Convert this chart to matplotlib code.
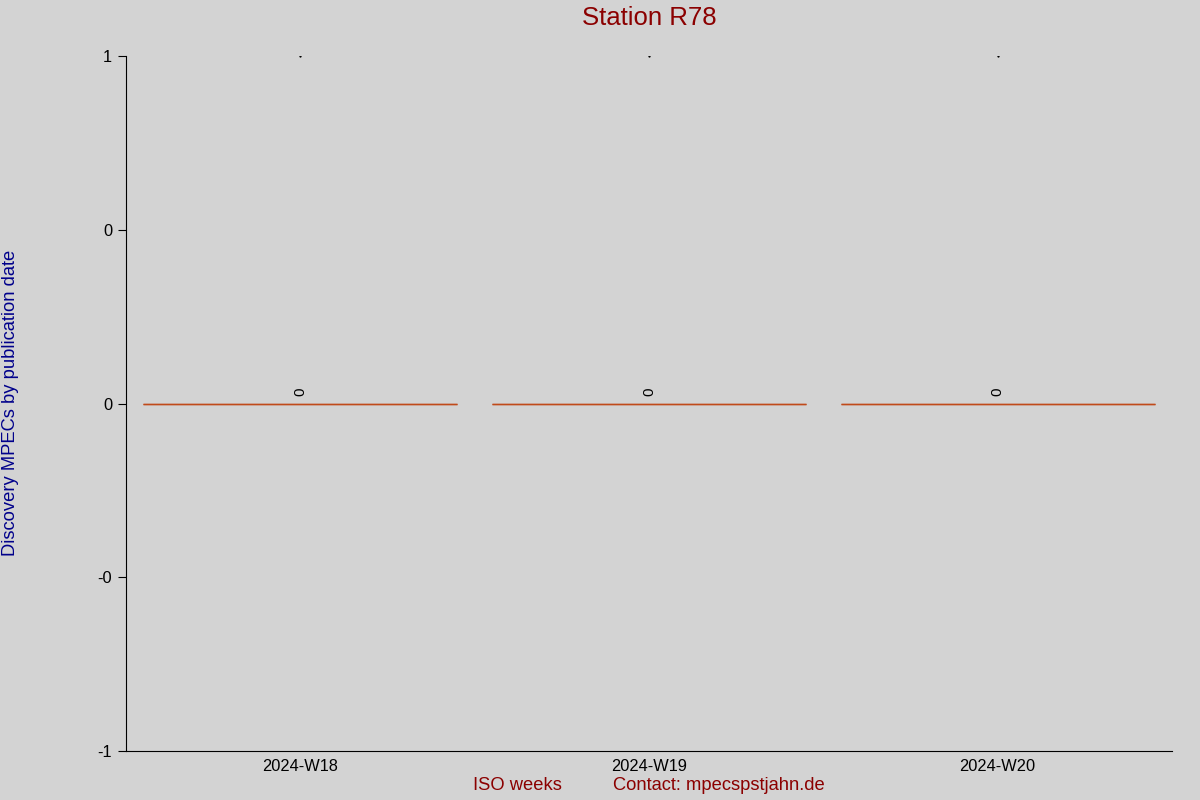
import matplotlib
matplotlib.use("Agg")
import matplotlib.pyplot as plt
from matplotlib.ticker import FormatStrFormatter

weeks = ["2024-W18", "2024-W19", "2024-W20"]
counts = [0, 0, 0]

plt.rcParams['font.family'] = ['Liberation Sans', 'DejaVu Sans']
bg = '#d3d3d3'
fig = plt.figure(figsize=(12, 8), dpi=100, facecolor=bg)
ax = fig.add_axes([126/1200, 1-751/800, (1172-126)/1200, (751-56)/800], facecolor=bg)

x = list(range(len(weeks)))
ax.bar(x, counts, width=0.9, color='#c04a1a', edgecolor='#c04a1a', linewidth=1)
for xi, c in zip(x, counts):
    ax.hlines(c, xi-0.45, xi+0.45, color='#c04a1a', linewidth=1)
    ax.text(xi, c + 0.022, str(c), rotation=90, ha='center', va='bottom', fontsize=11)
ax.plot(x, [1]*len(x), linestyle='none', marker='s', markersize=0.6, color='black')

ax.set_xlim(-0.5, len(weeks)-0.5)
ax.set_ylim(-1, 1)
ax.set_yticks([-1, -0.5, 0, 0.5, 1])
ax.yaxis.set_major_formatter(FormatStrFormatter('%.0f'))
ax.set_xticks(x)
ax.set_xticklabels(weeks)
ax.tick_params(axis='x', length=0, labelsize=11.8, pad=6)
ax.tick_params(axis='y', length=6, labelsize=11.8, direction='out', pad=4)
for s in ['top', 'right']:
    ax.spines[s].set_visible(False)

fig.text(649/1200, 1-18/800, "Station R78", ha='center', va='center', fontsize=18.5, color='#8b0000')
fig.text(11/1200, 1-403/800, "Discovery MPECs by publication date", rotation=90, ha='center', va='center', fontsize=13.2, color='#00008b')
fig.text(517/1200, 1-786/800, "ISO weeks", ha='center', va='center', fontsize=13.2, color='#8b0000')
fig.text(719/1200, 1-786/800, "Contact: mpecspstjahn.de", ha='center', va='center', fontsize=13.2, color='#8b0000')

fig.savefig("out.png", dpi=100, facecolor=bg)
